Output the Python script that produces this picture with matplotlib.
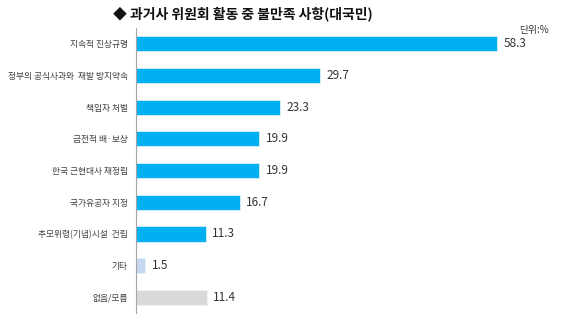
import matplotlib
matplotlib.use("Agg")
import matplotlib.pyplot as plt

plt.rcParams['font.family'] = ['Noto Sans CJK KR', 'DejaVu Sans']

categories = ["지속적 진상규명", "정부의 공식사과와  재발 방지약속", "책임자 처벌", "금전적 배·보상",
              "한국 근현대사 재정립", "국가유공자 지정", "추모위령(기념)시설  건립", "기타", "없음/모름"]
values = [58.3, 29.7, 23.3, 19.9, 19.9, 16.7, 11.3, 1.5, 11.4]
colors = ["#00B0F0"] * 7 + ["#C6D9F1", "#D9D9D9"]
title = "◆ 과거사 위원회 활동 중 불만족 사항(대국민)"
unit = "단위:%"

fig = plt.figure(figsize=(5.67, 3.28), dpi=100)
ax = fig.add_axes([0.24, 0.045, 0.71, 0.87])
y = list(range(len(categories)))
ax.barh(y, values, height=0.48, color=colors, edgecolor="#E8F6FD", linewidth=0.5)
for yi, v in zip(y, values):
    ax.text(v + 1.0, yi, f"{v:.1f}", va="center", ha="left", fontsize=8.5, color="#333333")
ax.set_ylim(8.5, -0.5)
ax.set_xlim(0, 65)
ax.set_yticks(y)
ax.set_yticklabels(categories, fontsize=6.3, color="#404040")
ax.tick_params(axis="y", length=0, pad=6)
ax.set_xticks([])
for s in ["top", "right", "bottom"]:
    ax.spines[s].set_visible(False)
ax.spines["left"].set_color("#A6A6A6")
ax.spines["left"].set_linewidth(0.8)

fig.text(0.428, 0.958, title, ha="center", va="center", fontsize=10, fontweight="bold", color="#111111")
fig.text(0.968, 0.91, unit, ha="right", va="center", fontsize=7, color="#333333")

fig.savefig("out.png", dpi=100)
